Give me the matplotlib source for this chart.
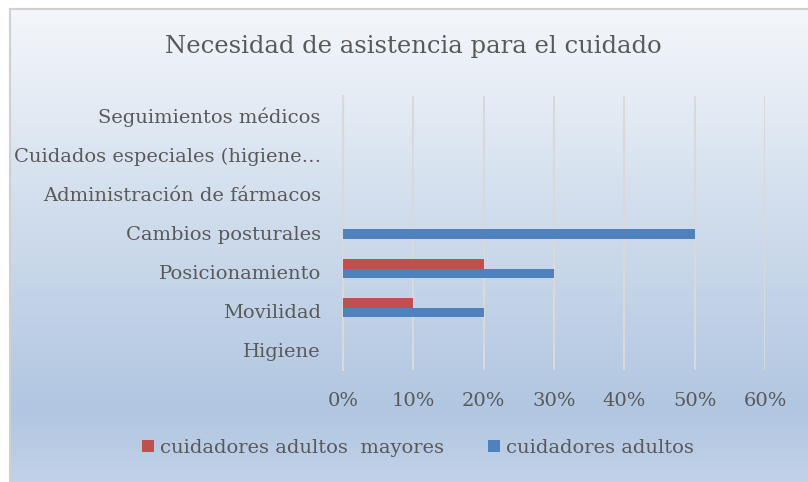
import matplotlib.pyplot as plt
import numpy as np
from matplotlib.colors import LinearSegmentedColormap

categorias = ["Higiene", "Movilidad", "Posicionamiento", "Cambios posturales",
              "Administración de fármacos", "Cuidados especiales (higiene…",
              "Seguimientos médicos"]
mayores = [0, 0.10, 0.20, 0, 0, 0, 0]
adultos = [0, 0.20, 0.30, 0.50, 0, 0, 0]
ticks = [0, 0.1, 0.2, 0.3, 0.4, 0.5, 0.6]

plt.rcParams['font.family'] = ['DejaVu Serif']
gris = '#595959'

fig = plt.figure(figsize=(8.08, 4.82), dpi=100)
fig.patch.set_facecolor('white')

# fondo degradado
bg = fig.add_axes([10/808, 0, 798/808, 473/482])
cmap = LinearSegmentedColormap.from_list('g', [(0, '#f4f7fb'), (0.45, '#cfdcec'),
                                               (0.85, '#b1c6e1'), (1, '#c1d2e8')])
bg.imshow(np.linspace(0, 1, 256).reshape(-1, 1), aspect='auto', cmap=cmap,
          extent=[0, 1, 0, 1])
bg.set_xticks([])
bg.set_yticks([])
for s in ['left', 'top']:
    bg.spines[s].set_color('#d0d0d0')
    bg.spines[s].set_linewidth(1.5)
for s in ['right', 'bottom']:
    bg.spines[s].set_visible(False)

ax = fig.add_axes([343/808, 1-370/482, 422/808, 274/482])
ax.set_facecolor('none')
y = np.arange(len(categorias))
h = 0.245
ax.barh(y + 0.21, mayores, height=h, color='#c0504d', linewidth=0,
        label='cuidadores adultos  mayores', zorder=3)
ax.barh(y - 0.03, adultos, height=h, color='#4f81bd', linewidth=0,
        label='cuidadores adultos', zorder=3)

ax.set_xlim(0, 0.6)
ax.set_ylim(-0.5, len(categorias) - 0.5)
ax.set_xticks(ticks)
ax.set_xticklabels([f"{int(t*100)}%" for t in ticks])
ax.set_yticks(y)
ax.set_yticklabels(categorias)
ax.tick_params(axis='both', length=0, labelsize=14, colors=gris)
ax.tick_params(axis='x', pad=16)
ax.tick_params(axis='y', pad=16)
ax.grid(axis='x', color='#d9d9d9', linewidth=1.5, zorder=0)
for s in ['top', 'right', 'bottom']:
    ax.spines[s].set_visible(False)
ax.spines['left'].set_color('#d9d9d9')
ax.spines['left'].set_linewidth(1.5)

fig.text(413/808, 1-47/482, "Necesidad de asistencia para el cuidado",
         ha='center', va='center', fontsize=17.5, color=gris)

fig.legend(loc='center', bbox_to_anchor=(418/808, 1-448/482), ncol=2, frameon=False,
           fontsize=14, labelcolor=gris, handlelength=0.6, handleheight=0.6,
           handletextpad=0.3, columnspacing=2.3)

plt.savefig('out.png', dpi=100)
